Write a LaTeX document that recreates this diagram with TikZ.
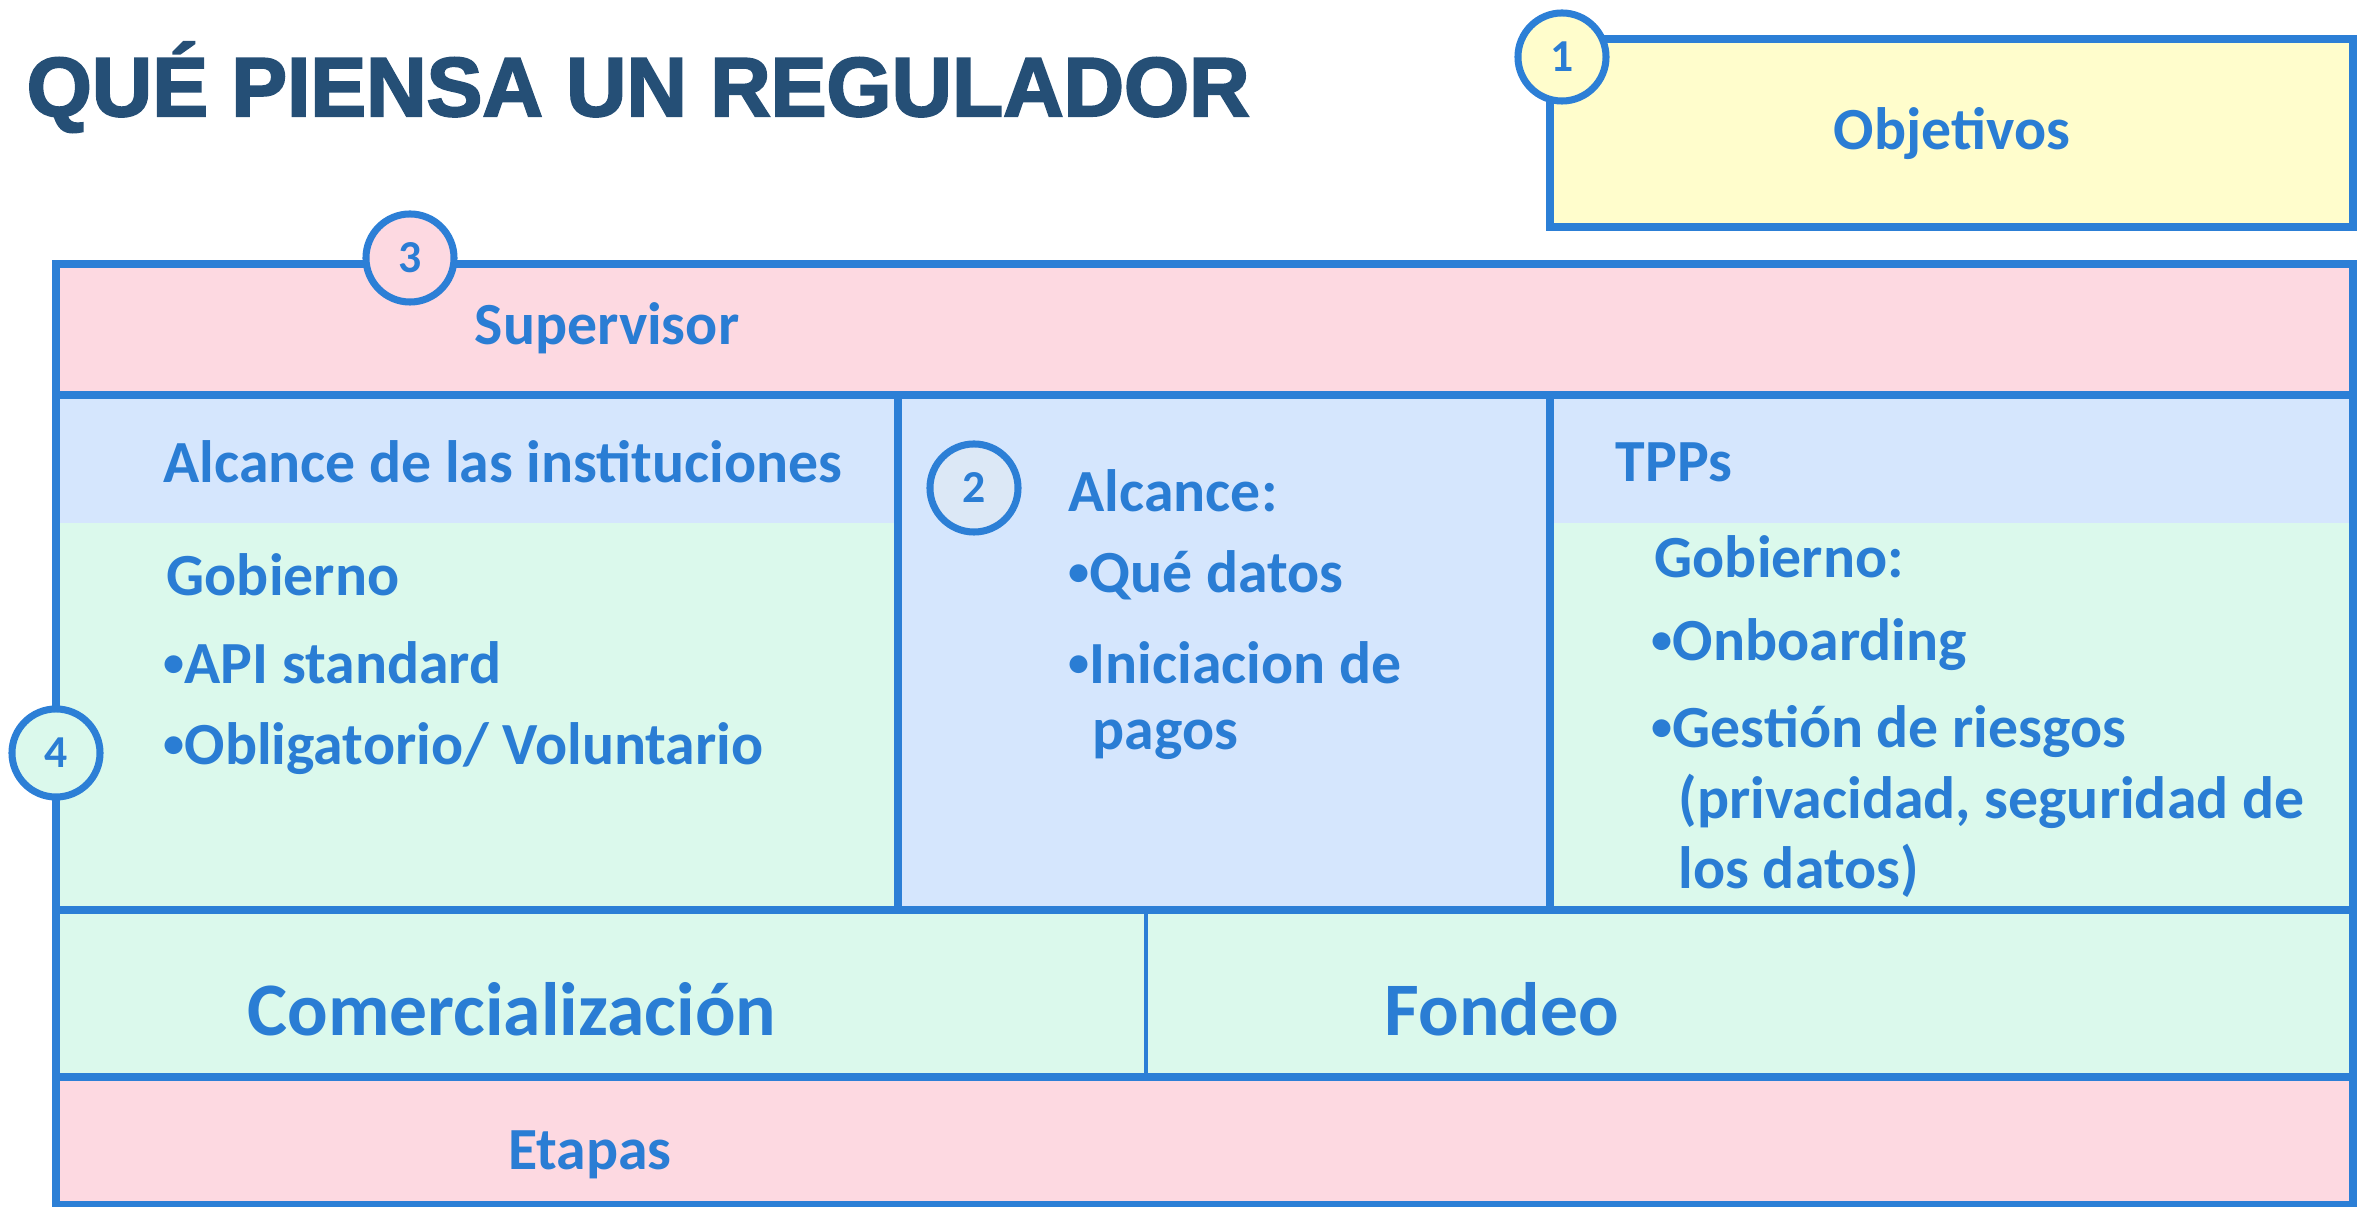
\documentclass[tikz,border=0pt]{standalone}
\usepackage{fontspec}
\setmainfont{Carlito}
\newfontfamily\titlefont[FakeBold=2.5]{Liberation Sans}
\usepackage{xcolor}
\definecolor{lineblue}{RGB}{44,127,214}
\definecolor{textblue}{RGB}{42,125,212}
\definecolor{titlenavy}{RGB}{37,79,118}
\definecolor{pinkfill}{RGB}{253,217,225}
\definecolor{bluefill}{RGB}{213,230,253}
\definecolor{greenfill}{RGB}{219,249,236}
\definecolor{yellowfill}{RGB}{255,253,204}
\definecolor{circlefill}{RGB}{220,232,246}
\newcommand{\smallbul}{\raisebox{0.12em}{\fontsize{12}{12}\selectfont\textbullet}}
\tikzset{
  frame line/.style={draw=lineblue, line width=2pt}}
\tikzset{
  num circle/.style={circle, draw=lineblue, line width=2pt, minimum size=0.88cm, inner sep=0pt,
    font=\fontsize{13}{14}\selectfont\bfseries, text=textblue}}
\tikzset{
  cell text/.style={anchor=west, inner sep=0pt, font=\fontsize{17}{20}\selectfont\bfseries, text=textblue}}
\tikzset{
  big text/.style={inner sep=0pt, font=\fontsize{21.5}{26}\selectfont\bfseries, text=textblue}}

\begin{document}
\begin{tikzpicture}[x=0.01cm,y=-0.01cm]
    \useasboundingbox (0,0) rectangle (2362,1207);
    \node[anchor=base west, inner sep=0pt, text=titlenavy,
      font=\titlefont\fontsize{23.8}{28}\selectfont\bfseries] (title) at (26,116) {QUÉ PIENSA UN REGULADOR};
    % objetivos box
    \draw[frame line, fill=yellowfill] (1550,39) rectangle (2353,227);
    \node[cell text, anchor=center] (obj) at (1952,134) {Objetivos};
    % bands of the main frame
    \fill[pinkfill] (56,264) rectangle (2353,395);
    \fill[bluefill] (56,395) rectangle (2353,523);
    \fill[greenfill] (56,523) rectangle (2353,910);
    \fill[bluefill] (898,395) rectangle (1550,910);
    \fill[greenfill] (56,910) rectangle (2353,1077);
    \fill[pinkfill] (56,1077) rectangle (2353,1205);
    \draw[frame line] (56,264) rectangle (2353,1205);
    \draw[frame line] (56,395) -- (2353,395);
    \draw[frame line] (56,910) -- (2353,910);
    \draw[frame line] (56,1077) -- (2353,1077);
    \draw[frame line] (898,395) -- (898,910);
    \draw[frame line] (1550,395) -- (1550,910);
    \draw[lineblue, line width=0.9pt] (1146,910) -- (1146,1077);
    % texts
    \node[cell text, anchor=center] (sup) at (607,328) {Supervisor};
    \node[cell text] (inst) at (163,462) {Alcance de las instituciones};
    \node[cell text] (gob1) at (166,575) {Gobierno};
    \node[cell text] (api) at (163,663) {\smallbul API standard};
    \node[cell text] (oblig) at (163,749) {\smallbul Obligatorio/ Voluntario};
    \node[cell text] (alc) at (1068,491) {Alcance:};
    \node[cell text] (datos) at (1068,575) {\smallbul Qué datos};
    \node[cell text] (inic) at (1068,663) {\smallbul Iniciacion de};
    \node[cell text] (pagos) at (1092,740) {pagos};
    \node[cell text] (tpps) at (1615,462) {TPPs};
    \node[cell text] (gob2) at (1654,557) {Gobierno:};
    \node[cell text] (onb) at (1651,645) {\smallbul Onboarding};
    \node[cell text] (riesg) at (1651,732) {\smallbul Gestión de riesgos};
    \node[cell text] (priv) at (1678,801) {(privacidad, seguridad de};
    \node[cell text] (losd) at (1678,871) {los datos)};
    \node[big text] (com) at (512,1009) {Comercialización};
    \node[big text] (fondeo) at (1502,1009) {Fondeo};
    \node[cell text, anchor=center] (etapas) at (590,1155) {Etapas};
    % numbered circles
    \node[num circle, fill=yellowfill] (n1) at (1562,57) {1};
    \node[num circle, fill=circlefill] (n2) at (974,488) {2};
    \node[num circle, fill=pinkfill] (n3) at (410,258) {3};
    \node[num circle, fill=greenfill] (n4) at (56,753) {4};
\end{tikzpicture}
\end{document}
